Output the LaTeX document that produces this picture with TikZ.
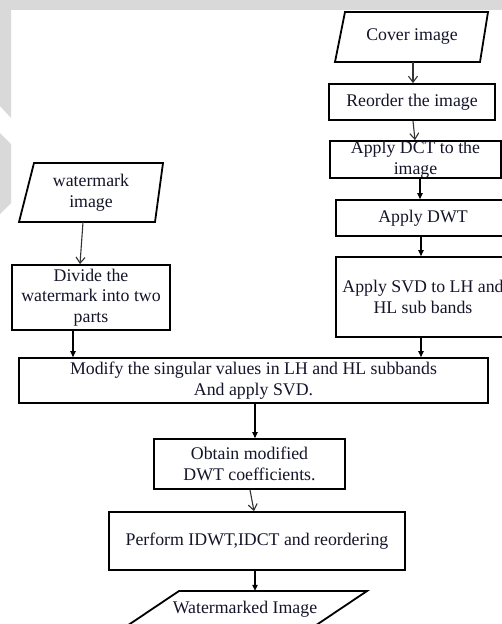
\documentclass[tikz,border=0pt]{standalone}
\usepackage{fontspec}
\setmainfont{Liberation Serif}
\usetikzlibrary{arrows.meta}
\definecolor{bggrey}{HTML}{D9D9D9}
\definecolor{txt}{HTML}{15152A}
\begin{document}
\begin{tikzpicture}[x=1pt,y=-1pt,
  box/.style={draw=black,line width=1.8pt,align=center,inner sep=0pt,text=txt,
    font=\fontsize{17.8}{20.5}\selectfont},
  para/.style={draw=none,align=center,inner sep=0pt,text=txt,
    font=\fontsize{17.8}{20.5}\selectfont},
  pshape/.style={draw=black,line width=1.8pt,line join=miter},
  farrow/.style={line width=1.1pt,-{Triangle[length=6pt,width=5.5pt]}},
  varrow/.style={line width=1.1pt,draw=black!80,-{Straight Barb[length=6pt,width=9pt,line width=1.1pt]}}]
\useasboundingbox (0,0) rectangle (502,624);
\fill[white] (0,0) rectangle (502,624);
% background decoration
\fill[bggrey] (0,0) rectangle (502,10);
\fill[bggrey] (0,10) -- (11,10) -- (11,118) -- (0,106) -- cycle;
\fill[bggrey] (0,133) -- (11,144) -- (11,203) -- (0,214) -- cycle;
% parallelogram outlines
\draw[pshape] (345,12) -- (488,12) -- (480,62) -- (335,62) -- cycle;
\draw[pshape] (34,163) -- (163,163) -- (155,222) -- (19,222) -- cycle;
\draw[pshape] (106,640) -- (179,591) -- (367,591) -- (294,640);
% nodes
\node[para,minimum width=140pt,minimum height=50pt] (cover) at (412,37) {Cover image};
\node[box,minimum width=166pt,minimum height=36pt] (reorder) at (412,102) {Reorder the image};
\node[box,minimum width=171pt,minimum height=37pt] (dct) at (415.5,159.5) {Apply DCT to the\\image};
\node[box,minimum width=174pt,minimum height=36pt] (dwt) at (423,218) {Apply DWT};
\node[box,minimum width=174pt,minimum height=80pt] (svd) at (423,297) {Apply SVD to LH and\\HL sub bands};
\node[para,minimum width=136pt,minimum height=59pt] (wm) at (91,192.5) {watermark\\image};
\node[box,minimum width=158pt,minimum height=65pt] (divide) at (91,297.5) {Divide the\\watermark into two\\parts};
\node[box,minimum width=469pt,minimum height=45pt] (modify) at (253.5,380.5) {Modify the singular values in LH and HL subbands\\And apply SVD.};
\node[box,minimum width=191pt,minimum height=50pt] (obtain) at (249.5,464) {Obtain modified\\DWT coefficients.};
\node[box,minimum width=296pt,minimum height=58pt] (perform) at (257,541) {Perform IDWT,IDCT and reordering};
\node[para,minimum width=180pt,minimum height=36pt] (wmd) at (245,609) {Watermarked Image};
% connectors
\draw[varrow] ([xshift=1pt]cover.south) -- ([xshift=1pt]reorder.north);
\draw[varrow] ([xshift=1pt]reorder.south) -- ([xshift=-0.5pt]dct.north);
\draw[farrow] ([xshift=4.5pt]dct.south) -- ([xshift=-3pt]dwt.north);
\draw[farrow] ([xshift=-2pt]dwt.south) -- ([xshift=-2pt]svd.north);
\draw[farrow] ([xshift=-2pt]svd.south) -- ([xshift=167.5pt]modify.north);
\draw[varrow] ([xshift=-8pt]wm.south) -- ([xshift=-11pt]divide.north);
\draw[farrow] ([xshift=-18pt]divide.south) -- ([xshift=-180.5pt]modify.north);
\draw[farrow] ([xshift=1.5pt]modify.south) -- ([xshift=5.5pt]obtain.north);
\draw[varrow] ([xshift=0.5pt]obtain.south) -- ([xshift=-3pt]perform.north);
\draw[farrow] ([xshift=-2pt]perform.south) -- ([xshift=10pt]wmd.north);
\end{tikzpicture}
\end{document}
